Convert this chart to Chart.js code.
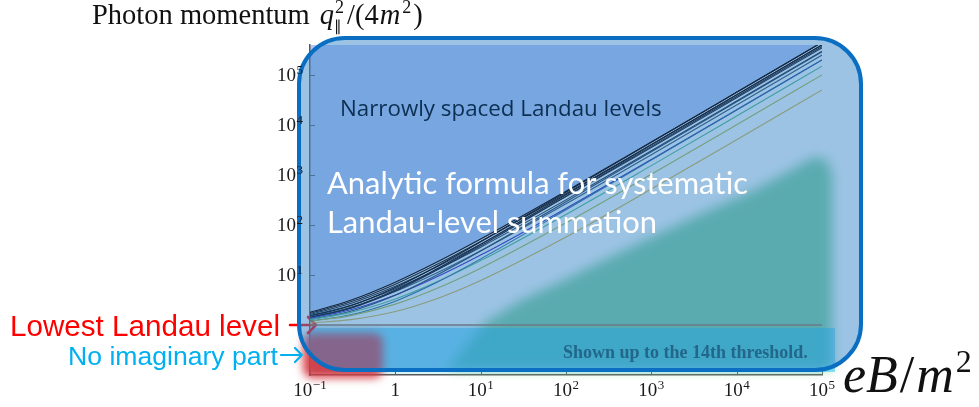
<!DOCTYPE html>
<html>
<head>
<meta charset="utf-8">
<script src="https://cdn.jsdelivr.net/npm/chart.js@4.4.1/dist/chart.umd.min.js"></script>
<style>
  html, body { margin: 0; padding: 0; background: #ffffff; }
  #wrap { position: relative; width: 979px; height: 407px; }
  canvas { display: block; }
</style>
</head>
<body>
<div id="wrap"><canvas id="chart" width="979" height="407"></canvas></div>
<script>
// Magnetic field strength eB/m^2 at which the thresholds are sampled
const fieldStrength = [0.1, 0.3, 1, 3, 10, 100, 1000, 10000, 100000];

// Pair-creation thresholds q_par^2/(4m^2) for Landau levels (n, n')
const threshold_0_1 = [1.098, 1.282, 1.866, 3.323, 7.791, 57.59, 522.9, 5071, 50224];
const threshold_0_2 = [1.192, 1.542, 2.618, 5.303, 13.70, 110.5, 1032, 10100, 100317];
const threshold_1_1 = [1.200, 1.600, 3.000, 7.000, 21.00, 201.0, 2001, 20001, 200001];
const threshold_0_3 = [1.282, 1.787, 3.323, 7.179, 19.41, 162.8, 1539, 15123, 150388];
const threshold_1_2 = [1.298, 1.888, 3.936, 9.770, 30.17, 292.5, 2915, 29143, 291422];
const threshold_0_4 = [1.371, 2.022, 4.000, 9.000, 25.00, 214.7, 2045, 20142, 200448];
const threshold_1_3 = [1.393, 2.158, 4.791, 12.27, 38.40, 374.3, 3733, 37322, 373206];
const threshold_2_2 = [1.400, 2.200, 5.000, 13.00, 41.00, 401.0, 4001, 40001, 400001];
const threshold_0_5 = [1.457, 2.250, 4.658, 10.78, 30.52, 266.3, 2551, 25159, 250500];
const threshold_1_4 = [1.485, 2.416, 5.598, 14.61, 46.12, 451.1, 4501, 45001, 450001];
const threshold_0_6 = [1.542, 2.472, 5.303, 12.54, 36.00, 317.8, 3055, 30174, 300548];
const threshold_0_7 = [1.625, 2.690, 5.936, 14.28, 41.44, 369.2, 3560, 35188, 350592];
const threshold_0_8 = [1.706, 2.904, 6.562, 16.00, 46.84, 420.5, 4064, 40200, 400633];
const threshold_0_9 = [1.787, 3.115, 7.179, 17.71, 52.23, 471.7, 4568, 45213, 450671];

// Lowest Landau level threshold (constant in B)
const lowestLevelField = [0.1, 100000];
const lowestLevelValue = [1, 1];

// Axis ticks
const xTickValues = [0.1, 1, 10, 100, 1000, 10000, 100000];
const xTickLabels = ['10⁻¹', '1', '10¹', '10²', '10³', '10⁴', '10⁵'];
const yTickValues = [10, 100, 1000, 10000, 100000];
const yTickLabels = ['10¹', '10²', '10³', '10⁴', '10⁵'];

const thresholdSeries = [
  { name: '(0,1)', values: threshold_0_1, color: '#8a9c7e' },
  { name: '(0,2)', values: threshold_0_2, color: '#74a07e' },
  { name: '(1,1)', values: threshold_1_1, color: '#2a70a8' },
  { name: '(0,3)', values: threshold_0_3, color: '#3f9ea4' },
  { name: '(1,2)', values: threshold_1_2, color: '#275482' },
  { name: '(0,4)', values: threshold_0_4, color: '#2f4cc0' },
  { name: '(1,3)', values: threshold_1_3, color: '#1c3a5e' },
  { name: '(2,2)', values: threshold_2_2, color: '#172e4c' },
  { name: '(0,5)', values: threshold_0_5, color: '#2d6190' },
  { name: '(1,4)', values: threshold_1_4, color: '#142944' },
  { name: '(0,6)', values: threshold_0_6, color: '#224a74' },
  { name: '(0,7)', values: threshold_0_7, color: '#1f4168' },
  { name: '(0,8)', values: threshold_0_8, color: '#193354' },
  { name: '(0,9)', values: threshold_0_9, color: '#12243c' }
];

const datasets = thresholdSeries.map((s, idx) => ({
  label: s.name,
  data: fieldStrength.map((b, i) => ({ x: b, y: s.values[i] })),
  borderColor: s.color,
  borderWidth: 1.1,
  pointRadius: 0,
  cubicInterpolationMode: 'monotone',
  // region above the highest threshold
  fill: idx === thresholdSeries.length - 1 ? 'end' : false,
  backgroundColor: 'rgb(183,197,247)'
}));

datasets.push({
  label: 'LLL',
  data: lowestLevelField.map((b, i) => ({ x: b, y: lowestLevelValue[i] })),
  borderColor: '#6c7889',
  borderWidth: 1.5,
  pointRadius: 0,
  fill: 'start',
  backgroundColor: 'rgb(212,244,248)'
});

const SERIF = '"Liberation Serif", "Times New Roman", serif';
const SUP_MAP = { '⁻': '−', '⁰': '0', '¹': '1', '²': '2', '³': '3', '⁴': '4', '⁵': '5', '⁶': '6', '⁷': '7', '⁸': '8', '⁹': '9' };

// split "10⁵" into mantissa "10" and exponent "5"
function splitPower(label) {
  let base = '', exp = '';
  for (const ch of label) {
    if (SUP_MAP[ch] !== undefined) exp += SUP_MAP[ch]; else base += ch;
  }
  return { base, exp };
}

function drawPowerLabel(ctx, label, x, baseline, align) {
  const { base, exp } = splitPower(label);
  ctx.font = `19px ${SERIF}`;
  const wb = ctx.measureText(base).width;
  ctx.font = `13px ${SERIF}`;
  const we = exp ? ctx.measureText(exp).width + 0.5 : 0;
  const total = wb + we;
  let x0 = align === 'right' ? x - total : x - total / 2;
  ctx.textAlign = 'left';
  ctx.textBaseline = 'alphabetic';
  ctx.font = `19px ${SERIF}`;
  ctx.fillText(base, x0, baseline);
  if (exp) {
    ctx.font = `13px ${SERIF}`;
    ctx.fillText(exp, x0 + wb + 0.5, baseline - 7);
  }
}

function roundRectPath(ctx, x, y, w, h, r) {
  ctx.beginPath();
  ctx.moveTo(x + r, y);
  ctx.arcTo(x + w, y, x + w, y + h, r);
  ctx.arcTo(x + w, y + h, x, y + h, r);
  ctx.arcTo(x, y + h, x, y, r);
  ctx.arcTo(x, y, x + w, y, r);
  ctx.closePath();
}

function fitSize(ctx, text, style, family, width) {
  ctx.font = `${style} 100px ${family}`;
  return 100 * width / ctx.measureText(text).width;
}

function arrow(ctx, x0, x1, y, head, width, color) {
  ctx.strokeStyle = color;
  ctx.lineWidth = width;
  ctx.lineCap = 'round';
  ctx.lineJoin = 'round';
  ctx.beginPath();
  ctx.moveTo(x0, y); ctx.lineTo(x1, y);
  ctx.moveTo(x1 - head, y - head); ctx.lineTo(x1, y); ctx.lineTo(x1 - head, y + head);
  ctx.stroke();
}

function frameBox(ca) {
  return { x: ca.left - 11, y: ca.top - 7, w: (ca.right + 39) - (ca.left - 11), h: (ca.bottom - 5) - (ca.top - 7), r: 46 };
}

// highlighted region of the (B, q) plane, in log10 units
const tealOutline = [
  [0.62, -0.88], [0.84, -0.40], [1.06, 0.06], [1.48, 0.50], [1.93, 0.86],
  [2.40, 1.26], [2.98, 1.74], [3.57, 2.22], [4.16, 2.66], [4.68, 3.14],
  [4.90, 3.36], [5.06, 3.30], [5.12, 3.00], [5.12, -0.88]
];

const decorations = {
  id: 'decorations',
  beforeDatasetsDraw(chart) {
    const { ctx, chartArea: ca, scales: { x: sx, y: sy } } = chart;
    const yOne = sy.getPixelForValue(1);
    ctx.save();

    // inward tick marks
    ctx.strokeStyle = '#5a5a5a';
    ctx.lineWidth = 1;
    ctx.beginPath();
    xTickValues.forEach(v => {
      const p = Math.round(sx.getPixelForValue(v)) + 0.5;
      ctx.moveTo(p, ca.bottom); ctx.lineTo(p, ca.bottom - 5);
    });
    yTickValues.forEach(v => {
      const p = Math.round(sy.getPixelForValue(v)) + 0.5;
      ctx.moveTo(ca.left, p); ctx.lineTo(ca.left + 5, p);
    });
    ctx.stroke();

    // teal highlight
    ctx.filter = 'blur(6px)';
    ctx.fillStyle = 'rgb(123,207,151)';
    ctx.beginPath();
    tealOutline.forEach(([lb, lq], i) => {
      const px = sx.getPixelForValue(Math.pow(10, lb));
      const py = sy.getPixelForValue(Math.pow(10, lq));
      if (i === 0) ctx.moveTo(px, py); else ctx.lineTo(px, py);
    });
    ctx.closePath();
    ctx.fill();
    ctx.filter = 'none';

    // band below the lowest Landau level
    ctx.fillStyle = 'rgba(0,187,255,0.44)';
    ctx.fillRect(ca.left, yOne + 3, (ca.right + 13) - ca.left, (ca.bottom - 3) - (yOne + 3));

    // red marker at small B
    ctx.filter = 'blur(4px)';
    ctx.fillStyle = 'rgba(214,58,66,0.95)';
    roundRectPath(ctx, ca.left - 7, yOne + 8, 80, ca.bottom + 3 - (yOne + 8), 9);
    ctx.fill();
    ctx.filter = 'none';

    // side labels with arrows
    ctx.textBaseline = 'alphabetic';
    ctx.textAlign = 'left';
    let fs = fitSize(ctx, 'Lowest Landau level', 'normal', '"Liberation Sans", Arial, sans-serif', 270);
    ctx.font = `${fs}px "Liberation Sans", Arial, sans-serif`;
    ctx.fillStyle = '#ff0000';
    ctx.fillText('Lowest Landau level', 10, 336);
    arrow(ctx, 290, 316, yOne, 8, 2.6, '#ff0000');

    fs = fitSize(ctx, 'No imaginary part', 'normal', '"Liberation Sans", Arial, sans-serif', 210);
    ctx.font = `${fs}px "Liberation Sans", Arial, sans-serif`;
    ctx.fillStyle = '#00b0f0';
    ctx.fillText('No imaginary part', 68, 365);
    arrow(ctx, 281, 302, 355, 7, 2.2, '#00b0f0');

    // translucent frame fill
    const fb = frameBox(ca);
    roundRectPath(ctx, fb.x, fb.y, fb.w, fb.h, fb.r);
    ctx.fillStyle = 'rgba(57,135,201,0.5)';
    ctx.fill();
    ctx.restore();
  },
  afterDatasetsDraw(chart) {
    const { ctx, chartArea: ca } = chart;
    ctx.save();
    const fb = frameBox(ca);
    roundRectPath(ctx, fb.x, fb.y, fb.w, fb.h, fb.r);
    ctx.strokeStyle = '#0a6fc2';
    ctx.lineWidth = 4;
    ctx.stroke();

    ctx.textBaseline = 'alphabetic';
    ctx.textAlign = 'left';

    let fs = fitSize(ctx, 'Narrowly spaced Landau levels', 'normal', '"Open Sans", sans-serif', 322);
    ctx.font = `${fs}px "Open Sans", sans-serif`;
    ctx.fillStyle = '#0c2f52';
    ctx.fillText('Narrowly spaced Landau levels', 340, 116);

    fs = fitSize(ctx, 'Analytic formula for systematic', 'normal', 'Lato, sans-serif', 421);
    ctx.font = `${fs}px Lato, sans-serif`;
    ctx.fillStyle = '#ffffff';
    ctx.fillText('Analytic formula for systematic', 327, 194);
    ctx.fillText('Landau-level summation', 327, 233);

    ctx.font = `bold 18px ${SERIF}`;
    ctx.fillStyle = '#22678a';
    ctx.fillText('Shown up to the 14th threshold.', 563, 358);

    // vertical axis title
    ctx.fillStyle = '#111111';
    let x = 92;
    const base = 24;
    ctx.font = `28.5px ${SERIF}`;
    ctx.fillText('Photon momentum ', x, base);
    x += ctx.measureText('Photon momentum ').width + 3;
    ctx.font = `italic 28.5px ${SERIF}`;
    ctx.fillText('q', x, base);
    x += ctx.measureText('q').width + 1;
    ctx.font = `18px ${SERIF}`;
    ctx.fillText('2', x, base - 11);
    ctx.font = `15px ${SERIF}`;
    ctx.fillText('∥', x - 1, base + 7);
    x += 12;
    ctx.font = `28.5px ${SERIF}`;
    ctx.fillText('/(4', x, base);
    x += ctx.measureText('/(4').width + 1;
    ctx.font = `italic 28.5px ${SERIF}`;
    ctx.fillText('m', x, base);
    x += ctx.measureText('m').width + 2;
    ctx.font = `18px ${SERIF}`;
    ctx.fillText('2', x, base - 11);
    x += ctx.measureText('2').width + 2;
    ctx.font = `28.5px ${SERIF}`;
    ctx.fillText(')', x, base);

    // horizontal axis title
    x = 843;
    const b2 = 392;
    ctx.font = `italic 52px ${SERIF}`;
    ctx.fillText('eB', x, b2);
    x += ctx.measureText('eB').width + 2;
    ctx.font = `52px ${SERIF}`;
    ctx.fillText('/', x, b2);
    x += ctx.measureText('/').width + 2;
    ctx.font = `italic 52px ${SERIF}`;
    ctx.fillText('m', x, b2);
    x += ctx.measureText('m').width + 2;
    ctx.font = `32px ${SERIF}`;
    ctx.fillText('2', x, b2 - 20);
    ctx.restore();
  },
  afterDraw(chart) {
    // tick labels as powers of ten, placed through the scales
    const { ctx, chartArea: ca, scales: { x: sx, y: sy } } = chart;
    ctx.save();
    ctx.fillStyle = '#1a1a1a';
    xTickValues.forEach((v, i) => {
      drawPowerLabel(ctx, xTickLabels[i], sx.getPixelForValue(v), ca.bottom + 21, 'center');
    });
    yTickValues.forEach((v, i) => {
      drawPowerLabel(ctx, yTickLabels[i], ca.left - 7, sy.getPixelForValue(v) + 6, 'right');
    });
    ctx.restore();
  }
};

new Chart(document.getElementById('chart'), {
  type: 'line',
  data: { datasets },
  plugins: [decorations],
  options: {
    responsive: false,
    animation: false,
    devicePixelRatio: 1,
    layout: { padding: { left: 0, top: 45, right: 157, bottom: 0 } },
    plugins: {
      legend: { display: false },
      tooltip: { enabled: false },
      filler: { drawTime: 'beforeDraw', propagate: false }
    },
    scales: {
      x: {
        type: 'logarithmic',
        position: 'bottom',
        min: 0.1,
        max: 100000,
        afterBuildTicks: s => { s.ticks = xTickValues.map(v => ({ value: v })); },
        afterFit: s => { s.height = 32; },
        grid: { display: true, drawOnChartArea: false, drawTicks: false },
        border: { display: true, color: '#5a5a5a', width: 1.5 },
        ticks: { display: false }
      },
      y: {
        type: 'logarithmic',
        position: 'left',
        min: 0.1,
        max: 398107,
        afterBuildTicks: s => { s.ticks = yTickValues.map(v => ({ value: v })); },
        afterFit: s => { s.width = 310; },
        grid: { display: true, drawOnChartArea: false, drawTicks: false },
        border: { display: true, color: '#5a5a5a', width: 1.5 },
        ticks: { display: false }
      }
    }
  }
});
</script>
</body>
</html>
